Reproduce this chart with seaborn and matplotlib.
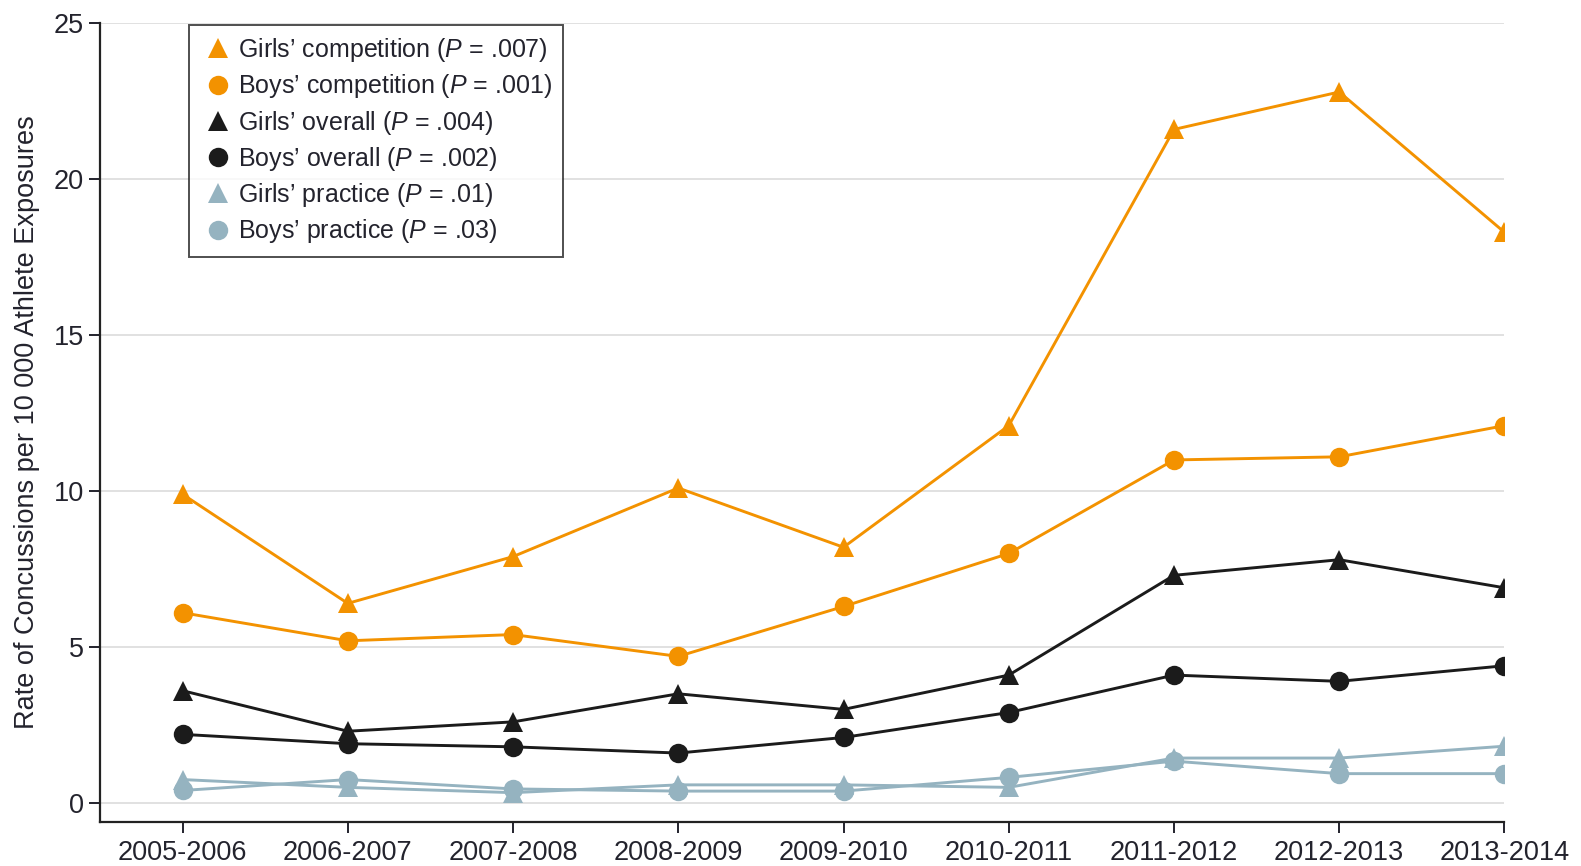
import matplotlib
matplotlib.use("Agg")
import matplotlib.pyplot as plt
from matplotlib import font_manager
from matplotlib.lines import Line2D
import seaborn as sns
import pandas as pd

seasons = ["2005-2006", "2006-2007", "2007-2008", "2008-2009", "2009-2010",
           "2010-2011", "2011-2012", "2012-2013", "2013-2014"]

girls_competition = [9.9, 6.4, 7.9, 10.1, 8.2, 12.1, 21.6, 22.8, 18.3]
boys_competition = [6.1, 5.2, 5.4, 4.7, 6.3, 8.0, 11.0, 11.1, 12.1]
girls_overall = [3.6, 2.3, 2.6, 3.5, 3.0, 4.1, 7.3, 7.8, 6.9]
boys_overall = [2.2, 1.9, 1.8, 1.6, 2.1, 2.9, 4.1, 3.9, 4.4]
girls_practice = [0.75, 0.5, 0.33, 0.58, 0.58, 0.5, 1.44, 1.44, 1.82]
boys_practice = [0.4, 0.75, 0.45, 0.38, 0.38, 0.82, 1.34, 0.94, 0.94]

series_names = ["Girls’ competition", "Boys’ competition", "Girls’ overall",
                "Boys’ overall", "Girls’ practice", "Boys’ practice"]
p_values = [".007", ".001", ".004", ".002", ".01", ".03"]
series_values = [girls_competition, boys_competition, girls_overall,
                 boys_overall, girls_practice, boys_practice]

y_ticks = [0, 5, 10, 15, 20, 25]
y_label = "Rate of Concussions per 10 000 Athlete Exposures"

sns.set_theme(style="white")
installed = {f.name for f in font_manager.fontManager.ttflist}
fam = "Liberation Sans Narrow" if "Liberation Sans Narrow" in installed else "Liberation Sans"
plt.rcParams["font.family"] = [fam, "DejaVu Sans"]
plt.rcParams["mathtext.fontset"] = "custom"
plt.rcParams["mathtext.it"] = f"{fam}:italic"
plt.rcParams["mathtext.rm"] = fam

ORANGE = "#F39200"
BLACK = "#1b1b1b"
BLUE = "#95B3C0"
TEXT = "#23232d"
colors = [ORANGE, ORANGE, BLACK, BLACK, BLUE, BLUE]
markers = ["^", "o", "^", "o", "^", "o"]

labels = [f"{n} ($\\mathit{{P}}$ = {p})" for n, p in zip(series_names, p_values)]

rows = []
for lab, vals in zip(labels, series_values):
    for i, (s, v) in enumerate(zip(seasons, vals)):
        rows.append({"series": lab, "season": s, "x": i, "rate": v})
df = pd.DataFrame(rows)

fig = plt.figure(figsize=(15.81, 8.66), dpi=100)
ax = fig.add_axes([0.0632, 0.0512, 0.8884, 0.9218])

palette = dict(zip(labels, colors))
marker_map = dict(zip(labels, markers))

def msize(m):
    return 15 if m == "^" else 14

# draw in reverse so the upper series sit on top
for lab in labels[::-1]:
    sub = df[df["series"] == lab]
    sns.lineplot(data=sub, x="x", y="rate", ax=ax, color=palette[lab],
                 marker=marker_map[lab], markersize=msize(marker_map[lab]),
                 markeredgewidth=0, linewidth=2.1, legend=False)

ax.set_xlim(-0.5, 8)
ax.set_ylim(-0.6, 25)
ax.set_xticks(range(len(seasons)))
ax.set_xticklabels(seasons)
ax.set_yticks(y_ticks)
ax.set_xlabel("")
ax.set_ylabel(y_label, fontsize=19.5, color=TEXT, labelpad=10)

for t in y_ticks:
    ax.axhline(t, color="#dedede", linewidth=1.3, zorder=0)

for side in ["top", "right"]:
    ax.spines[side].set_visible(False)
for side in ["left", "bottom"]:
    ax.spines[side].set_color("#222222")
    ax.spines[side].set_linewidth(1.6)

ax.tick_params(axis="both", which="major", labelsize=19.5, colors=TEXT,
               direction="out", length=8, width=1.4, bottom=True, left=True)
ax.tick_params(axis="x", pad=5)

leg_handles = [Line2D([], [], linestyle="none", marker=m, color=c,
                      markersize=msize(m), markeredgewidth=0)
               for m, c in zip(markers, colors)]
leg = ax.legend(leg_handles, labels, loc="upper left", bbox_to_anchor=(0.0634, 0.998),
                borderaxespad=0, frameon=True, fancybox=False, fontsize=18,
                handletextpad=0.1, handlelength=1.4, labelspacing=0.33,
                borderpad=0.45, edgecolor="#222222")
leg.get_frame().set_linewidth(1.4)
for txt in leg.get_texts():
    txt.set_color(TEXT)

fig.savefig("out.png", dpi=100)
